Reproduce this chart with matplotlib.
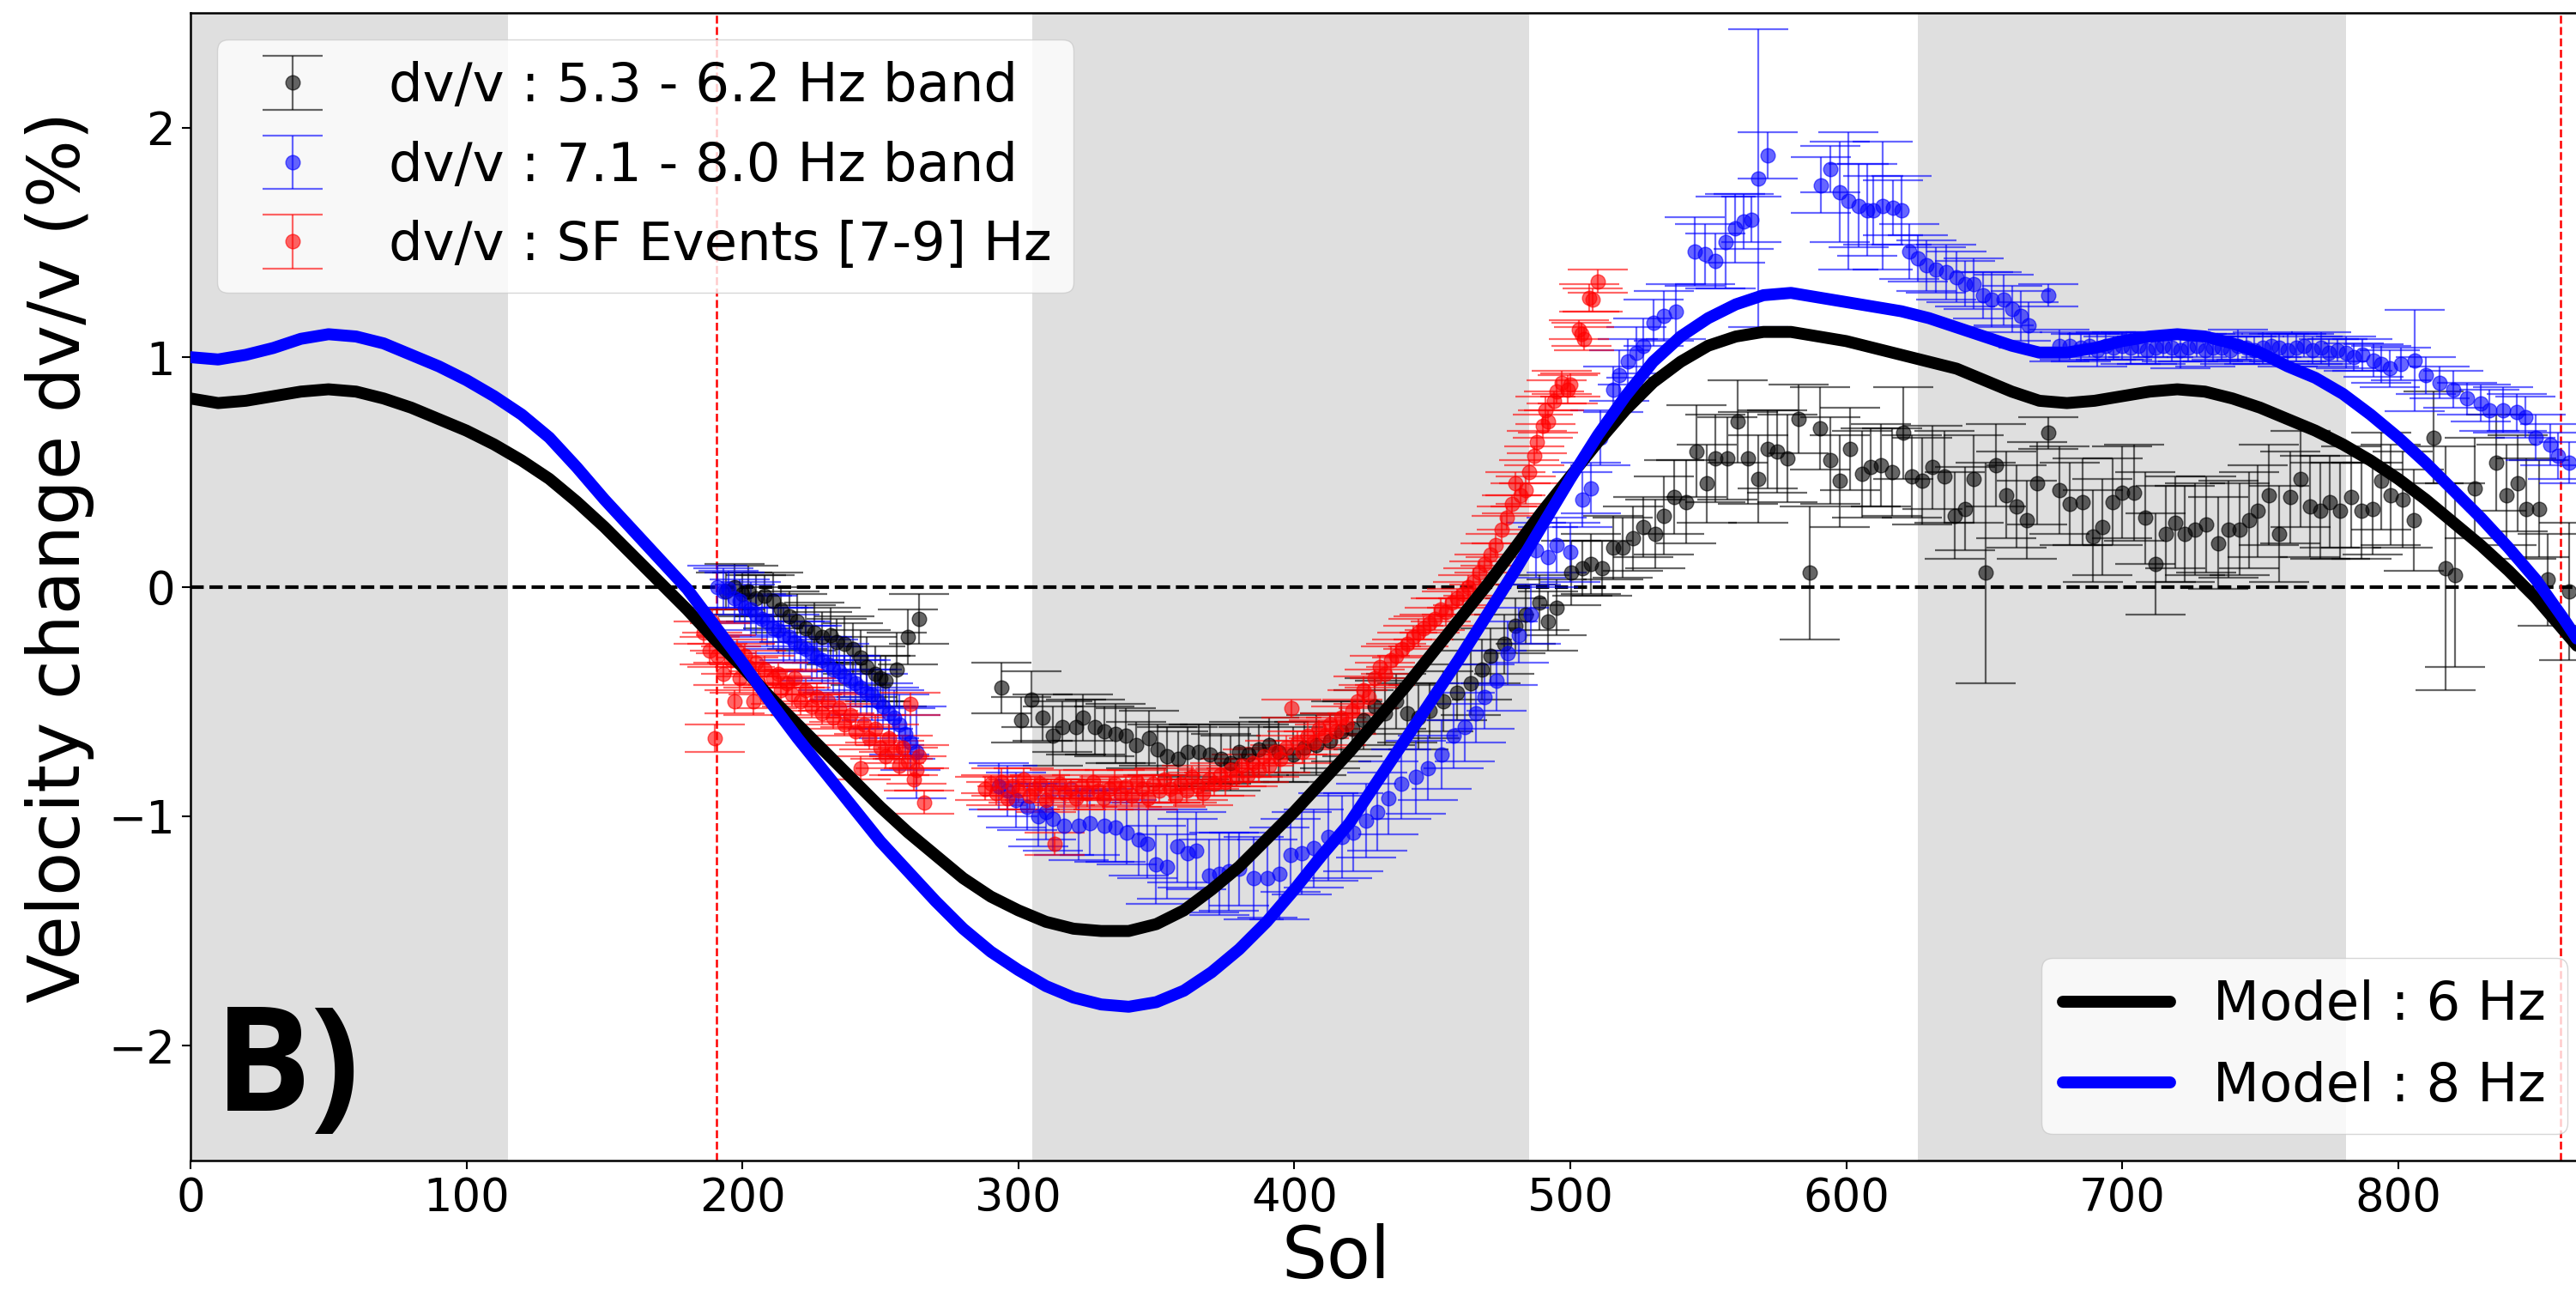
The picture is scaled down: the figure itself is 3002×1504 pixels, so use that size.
import matplotlib
matplotlib.use("Agg")
import matplotlib.pyplot as plt

# ---------------------------------------------------------------- data
# Model curves (dv/v in %), sampled every 10 sols
model_sol = list(range(0, 880, 10))
model_6hz = [0.82, 0.80, 0.81, 0.83, 0.85, 0.86, 0.85, 0.82, 0.78, 0.73,
             0.68, 0.62, 0.55, 0.47, 0.37, 0.26, 0.14, 0.02, -0.10, -0.23,
             -0.35, -0.48, -0.60, -0.72, -0.84, -0.96, -1.07, -1.17, -1.27, -1.35,
             -1.41, -1.46, -1.49, -1.50, -1.50, -1.47, -1.41, -1.32, -1.22, -1.10,
             -0.98, -0.85, -0.72, -0.58, -0.44, -0.29, -0.14, 0.01, 0.17, 0.33,
             0.48, 0.63, 0.77, 0.89, 0.98, 1.05, 1.09, 1.11, 1.11, 1.09,
             1.07, 1.04, 1.01, 0.98, 0.95, 0.90, 0.85, 0.81, 0.80, 0.81,
             0.83, 0.85, 0.86, 0.85, 0.82, 0.78, 0.73, 0.68, 0.62, 0.55,
             0.47, 0.38, 0.28, 0.18, 0.07, -0.05, -0.19, -0.33]
model_8hz = [1.00, 0.99, 1.01, 1.04, 1.08, 1.10, 1.09, 1.06, 1.01, 0.96,
             0.90, 0.83, 0.75, 0.65, 0.52, 0.38, 0.25, 0.12, -0.01, -0.17,
             -0.33, -0.50, -0.66, -0.81, -0.96, -1.11, -1.24, -1.37, -1.49, -1.59,
             -1.67, -1.74, -1.79, -1.82, -1.83, -1.81, -1.76, -1.68, -1.58, -1.46,
             -1.32, -1.17, -1.03, -0.85, -0.67, -0.49, -0.31, -0.12, 0.07, 0.27,
             0.47, 0.66, 0.83, 0.98, 1.09, 1.17, 1.23, 1.27, 1.28, 1.26,
             1.24, 1.22, 1.20, 1.17, 1.13, 1.09, 1.05, 1.02, 1.02, 1.04,
             1.07, 1.09, 1.10, 1.09, 1.06, 1.02, 0.96, 0.91, 0.84, 0.75,
             0.65, 0.54, 0.42, 0.30, 0.17, 0.03, -0.14, -0.32]

# dv/v measured in the 5.3 - 6.2 Hz band
band6_sol = [194, 197, 200, 202, 205, 208, 211, 214, 217, 220, 223, 226, 229, 232, 234,
             237, 240, 243, 245, 248, 250, 252, 256, 260, 264,
             293.8, 301, 304.7, 308.9, 312.5, 316, 320.8, 323.3, 327.6, 331.2, 335.3, 339,
             342.6, 347.3, 350.4, 354, 358, 361.2, 365.3, 369.5, 373.6, 376.8, 379.9, 383.5,
             387.2, 390.8, 394.4, 399.6, 403.7, 407.9, 413, 417, 421,
             425, 429, 433, 437, 441, 445, 449, 454, 459, 464, 468, 471, 476, 480, 484,
             488.7, 491.8, 495, 500.2, 504.3, 507.4, 511.6, 515.7, 518.9, 522.7, 526.4,
             530.7, 533.9, 537.7, 542, 545.7, 549.4, 552.7, 556.9, 560.7, 564.4, 568.2, 571.4,
             575.1, 578.8, 582.6, 586.9, 590.6, 594.4, 597.6, 601.3, 605.6, 608.8, 612.6,
             616.7, 620.6, 623.8, 627.6, 631.3, 635.6, 639.3, 643.1, 646.3, 650.6, 654.3,
             658.1, 661.8, 665.6, 669.2, 673.1, 677.4, 681.1,
             685.8, 689.4, 692.9, 696.5, 700.1, 704.3, 708.5, 712.1, 715.7, 719.3, 722.8,
             726.4, 730.6, 734.8, 738.4, 742.5, 746.1, 749.1, 753.3, 756.8, 761, 764.6,
             768.2, 771.8, 775.3, 778.9, 783.1, 786.7, 790.9, 793.8, 797.4, 801.6, 805.8,
             812.9, 817.1, 820.7, 827.9, 835.6, 839.2, 843.4, 846.4, 851.2, 854.2, 861.9]
band6_dvv = [-0.02, 0.00, -0.03, -0.02, -0.05, -0.04, -0.06, -0.10, -0.13, -0.15, -0.18, -0.20,
             -0.22, -0.21, -0.24, -0.25, -0.27, -0.31, -0.35, -0.38, -0.40, -0.41, -0.36, -0.22,
             -0.14,
             -0.44, -0.58, -0.49, -0.57, -0.65, -0.61, -0.61, -0.57, -0.61, -0.63, -0.64, -0.65,
             -0.69, -0.66, -0.71, -0.74, -0.75, -0.72, -0.72, -0.73, -0.75, -0.77, -0.72, -0.73,
             -0.71, -0.69, -0.72, -0.73, -0.70, -0.69, -0.67, -0.63, -0.62,
             -0.58, -0.52, -0.55, -0.50, -0.55, -0.57, -0.54, -0.50, -0.46, -0.42, -0.36, -0.30,
             -0.25, -0.17, -0.12, -0.07, -0.15, -0.09, 0.06, 0.08, 0.10, 0.08, 0.17, 0.17, 0.21,
             0.26,
             0.23, 0.31, 0.39, 0.37, 0.59, 0.45, 0.56, 0.56, 0.72, 0.56, 0.47, 0.60,
             0.59, 0.56, 0.73, 0.06, 0.69, 0.55, 0.46, 0.60, 0.49, 0.52, 0.53,
             0.50, 0.67, 0.48, 0.46, 0.52, 0.48, 0.31, 0.34, 0.47, 0.06, 0.53,
             0.40, 0.35, 0.29, 0.45, 0.67, 0.42, 0.36,
             0.37, 0.22, 0.26, 0.37, 0.41, 0.41, 0.30, 0.10, 0.23, 0.28, 0.23,
             0.25, 0.27, 0.19, 0.25, 0.25, 0.29, 0.33, 0.40, 0.23, 0.39, 0.47,
             0.35, 0.33, 0.37, 0.33, 0.39, 0.33, 0.34, 0.46, 0.40, 0.38, 0.29,
             0.65, 0.08, 0.05, 0.43, 0.54, 0.40, 0.45, 0.34, 0.34, 0.03, -0.02]
band6_err = [0.08, 0.10, 0.09, 0.11, 0.10, 0.09, 0.12, 0.10, 0.11, 0.12, 0.10, 0.13, 0.11, 0.12,
             0.10, 0.12, 0.11, 0.12, 0.13, 0.12, 0.10, 0.11, 0.16, 0.12, 0.11,
             0.11, 0.10, 0.12, 0.10, 0.13, 0.11, 0.12, 0.10, 0.12, 0.11, 0.13, 0.12,
             0.10, 0.12, 0.11, 0.13, 0.12, 0.11, 0.12, 0.13, 0.11, 0.12, 0.13, 0.12,
             0.11, 0.12, 0.13, 0.12, 0.11, 0.13, 0.12, 0.13, 0.12,
             0.13, 0.12, 0.14, 0.12, 0.13, 0.14, 0.12, 0.13, 0.12, 0.14, 0.13, 0.12,
             0.13, 0.12, 0.13, 0.12, 0.13, 0.12, 0.14, 0.12, 0.13, 0.12, 0.14, 0.13, 0.14,
             0.13,
             0.15, 0.17, 0.16, 0.18, 0.20, 0.17, 0.19, 0.18, 0.18, 0.20, 0.19, 0.17,
             0.18, 0.19, 0.15, 0.29, 0.18, 0.19, 0.20, 0.18, 0.19, 0.17, 0.18,
             0.19, 0.20, 0.18, 0.19, 0.18, 0.20, 0.19, 0.18, 0.19, 0.48, 0.18,
             0.19, 0.18, 0.17, 0.18, 0.07, 0.19, 0.18,
             0.19, 0.20, 0.21, 0.19, 0.20, 0.21, 0.20, 0.22, 0.21, 0.20, 0.21,
             0.20, 0.21, 0.20, 0.21, 0.20, 0.21, 0.20, 0.22, 0.21, 0.20, 0.21,
             0.22, 0.21, 0.20, 0.21, 0.22, 0.21, 0.20, 0.21, 0.22, 0.21, 0.22,
             0.20, 0.53, 0.40, 0.22, 0.21, 0.22, 0.21, 0.22, 0.21, 0.20, 0.30]

# dv/v measured in the 7.1 - 8.0 Hz band
band8_sol = [191, 193, 195, 197, 199, 201, 203, 205, 207, 209, 211, 213, 215, 217, 219, 221,
             223, 225, 227, 229, 231, 233, 235, 237, 239, 241, 243, 245, 247, 249, 251, 253,
             255, 257, 259, 261, 263,
             293, 295.9, 299, 303.1, 307.3, 310, 312.5, 316.6, 321.8, 326, 331.1, 335.3,
             339.4, 343.6, 346.7, 349.8, 354, 357.6, 361.2, 364.3, 369, 372.7, 376.3, 380,
             385.2, 390.4, 394.5, 398.7, 402.8, 407, 412.2, 417.4, 421.5, 426, 430, 434,
             438.9, 444.1, 448.3, 453.5, 457.6, 461.8, 465.9, 469, 473.2, 477.3, 481.5, 485.6,
             487.7, 491.8, 494.9, 500.1, 504.3, 507.4, 511, 515.7, 517.9, 521, 524, 526.4,
             530.1, 533.9, 538.2,
             545.2, 549, 552.7, 556.4, 559.6, 562.9, 565.5, 568.2, 571.4, 590.7, 594.4, 597.6,
             600.8, 604.5, 607.7, 609.9, 613.1, 616.9, 620.1, 622.8, 626, 629.2, 632.4, 636.2,
             639.9, 643.1, 646.3, 649.5, 652.7, 657, 660.2, 663.4, 666.1, 673.1, 677.4, 681.1,
             685, 688, 691, 694, 697, 700, 703, 706, 709, 712, 715, 718, 721, 724, 727, 730,
             733, 736, 739, 742, 745, 748, 751, 754, 757, 760, 763, 766, 769, 772, 775, 778,
             781, 784, 787,
             791, 794, 797, 801, 806, 810, 815, 820, 825, 830, 833, 838, 843, 846, 850, 855,
             858, 862]
band8_dvv = [0.00, -0.02, -0.01, -0.05, -0.06, -0.09, -0.10, -0.12, -0.14, -0.15, -0.18, -0.19,
             -0.21, -0.22, -0.24, -0.26, -0.27, -0.29, -0.31, -0.32, -0.34, -0.36, -0.37, -0.39,
             -0.41, -0.42, -0.44, -0.46, -0.47, -0.50, -0.52, -0.55, -0.57, -0.60, -0.64, -0.68,
             -0.72,
             -0.87, -0.89, -0.93, -0.96, -1.00, -0.98, -1.01, -1.04, -1.04, -1.03, -1.04, -1.05,
             -1.07, -1.10, -1.12, -1.21, -1.22, -1.13, -1.16, -1.15, -1.26, -1.25, -1.24, -1.23,
             -1.27, -1.27, -1.25, -1.17, -1.16, -1.14, -1.09, -1.09, -1.07, -1.02, -0.98, -0.92,
             -0.86, -0.83, -0.79, -0.73, -0.65, -0.61, -0.55, -0.48, -0.41, -0.29, -0.21, -0.12,
             0.16, 0.13, 0.18, 0.15, 0.38, 0.43, 0.65, 0.86, 0.92, 0.98, 1.02, 1.05,
             1.15, 1.18, 1.20,
             1.46, 1.45, 1.42, 1.50, 1.56, 1.59, 1.60, 1.78, 1.88, 1.75, 1.82, 1.72,
             1.68, 1.66, 1.64, 1.64, 1.66, 1.65, 1.64, 1.46, 1.43, 1.40, 1.38, 1.37,
             1.35, 1.32, 1.32, 1.27, 1.25, 1.25, 1.21, 1.18, 1.14, 1.27, 1.05, 1.05,
             1.04, 1.05, 1.03, 1.05, 1.04, 1.05, 1.04, 1.05, 1.03, 1.04, 1.05, 1.04, 1.03, 1.04,
             1.05, 1.03, 1.04, 1.04, 1.03, 1.05, 1.04, 1.03, 1.04, 1.05, 1.04, 1.03, 1.04, 1.05,
             1.03, 1.04, 1.02, 1.03, 1.02, 1.00, 1.01,
             0.985, 0.97, 0.95, 0.97, 0.985, 0.92, 0.89, 0.86, 0.82, 0.80, 0.77, 0.77,
             0.76, 0.74, 0.65, 0.62, 0.57, 0.54]
band8_err = [0.09, 0.10, 0.08, 0.11, 0.09, 0.10, 0.12, 0.09, 0.10, 0.11, 0.09, 0.10, 0.12,
             0.10, 0.09, 0.11, 0.10, 0.12, 0.09, 0.10, 0.11, 0.10, 0.12, 0.09, 0.11, 0.10,
             0.12, 0.10, 0.11, 0.12, 0.10, 0.11, 0.12, 0.13, 0.11, 0.12, 0.20,
             0.10, 0.11, 0.12, 0.10, 0.13, 0.12, 0.14, 0.13, 0.15, 0.14, 0.16, 0.15,
             0.14, 0.16, 0.15, 0.17, 0.14, 0.16, 0.15, 0.17, 0.16, 0.18, 0.17, 0.16,
             0.18, 0.17, 0.20, 0.16, 0.18, 0.17, 0.19, 0.18, 0.17, 0.16, 0.17, 0.16,
             0.15, 0.16, 0.14, 0.15, 0.14, 0.15, 0.13, 0.14, 0.13, 0.14, 0.12, 0.13,
             0.12, 0.13, 0.12, 0.13, 0.12, 0.11, 0.12, 0.10, 0.11, 0.10, 0.11, 0.12,
             0.10, 0.11, 0.12,
             0.15, 0.13, 0.12, 0.20, 0.15, 0.12, 0.10, 0.65, 0.10, 0.12, 0.10, 0.22,
             0.30, 0.18, 0.20, 0.15, 0.28, 0.12, 0.15, 0.12, 0.10, 0.11, 0.10, 0.12,
             0.11, 0.10, 0.11, 0.10, 0.12, 0.11, 0.10, 0.11, 0.10, 0.05, 0.07, 0.06,
             0.06, 0.05, 0.07, 0.06, 0.05, 0.06, 0.07, 0.05, 0.06, 0.07, 0.05, 0.06, 0.08, 0.06,
             0.05, 0.07, 0.06, 0.05, 0.06, 0.07, 0.05, 0.06, 0.07, 0.05, 0.06, 0.07, 0.06, 0.05,
             0.06, 0.07, 0.06, 0.05, 0.07, 0.06, 0.07,
             0.07, 0.08, 0.08, 0.07, 0.22, 0.08, 0.07, 0.08, 0.07, 0.08, 0.09, 0.10,
             0.08, 0.09, 0.10, 0.09, 0.10, 0.09]

# dv/v from SF events, 7 - 9 Hz
sf_sol = [186, 188, 189, 190, 191, 192, 193, 194, 196, 197, 198, 199, 201, 202, 204, 205,
          206, 208, 209, 211, 213, 214, 216, 218, 219, 221, 223, 225, 227, 229, 231, 233,
          235, 237, 239, 241, 243, 244, 246, 248, 250, 252, 253, 255, 257, 258, 260, 261,
          262, 263, 264, 266,
          288, 290, 292, 294, 296, 298, 300, 302, 304, 306, 308, 310, 312, 313, 315, 317,
          319, 321, 323, 325, 327, 329, 331, 333, 335, 337, 339, 341, 343, 345, 347, 349,
          351, 353, 355, 357, 359, 361, 363, 365, 367, 369, 371, 373, 375, 377, 379, 381,
          383, 385, 387, 389, 391, 393, 395, 397, 399, 401, 403, 405, 407, 409, 411, 413,
          415, 417, 419, 421,
          423, 425, 427, 429, 431, 433, 435, 437, 439, 441, 443, 445, 447, 449, 451, 453,
          455, 457, 459, 461, 463, 465, 467, 469, 471, 473, 475, 477, 479, 480, 482, 484,
          485, 487, 488, 490, 491, 492, 494, 495, 497, 499, 500, 503, 504, 505, 507, 508,
          510]
sf_dvv = [-0.20, -0.28, -0.15, -0.66, -0.30, -0.22, -0.38, -0.25, -0.32, -0.50, -0.28, -0.40,
          -0.30, -0.35, -0.50, -0.33, -0.42, -0.36, -0.48, -0.40, -0.38, -0.45, -0.42, -0.47,
          -0.40, -0.50, -0.45, -0.52, -0.48, -0.55, -0.50, -0.57, -0.53, -0.60, -0.56, -0.63,
          -0.79, -0.60, -0.66, -0.62, -0.70, -0.74, -0.66, -0.72, -0.78, -0.70, -0.76, -0.51,
          -0.84, -0.80, -0.74, -0.94,
          -0.88, -0.86, -0.90, -0.85, -0.92, -0.87, -0.89, -0.84, -0.91, -0.88, -0.86, -0.93,
          -0.89, -1.12, -0.86, -0.90, -0.88, -0.92, -0.87, -0.90, -0.85, -0.89, -0.92, -0.88,
          -0.86, -0.90, -0.87, -0.91, -0.85, -0.88, -0.92, -0.86, -0.89, -0.84, -0.88, -0.91,
          -0.86, -0.89, -0.83, -0.87, -0.90, -0.84, -0.86, -0.82, -0.85, -0.80, -0.83, -0.78,
          -0.82, -0.77, -0.80, -0.74, -0.78, -0.72, -0.75, -0.70, -0.53, -0.68, -0.72, -0.65,
          -0.68, -0.62, -0.65, -0.60, -0.63, -0.57, -0.60, -0.54,
          -0.50, -0.45, -0.48, -0.40, -0.35, -0.38, -0.32, -0.30, -0.27, -0.25, -0.22, -0.20,
          -0.18, -0.16, -0.14, -0.10, -0.11, -0.07, -0.05, -0.03, 0.00, 0.02, 0.06, 0.10,
          0.14, 0.18, 0.25, 0.30, 0.36, 0.45, 0.40, 0.42, 0.50, 0.57, 0.63, 0.70,
          0.77, 0.72, 0.81, 0.85, 0.89, 0.86, 0.88, 1.12, 1.10, 1.08, 1.26, 1.25, 1.33]
sf_err = [0.05, 0.06, 0.05, 0.06, 0.05, 0.06, 0.05, 0.04, 0.06, 0.05, 0.05, 0.06, 0.05, 0.04,
          0.06, 0.05, 0.05, 0.06, 0.05, 0.04, 0.05, 0.06, 0.05, 0.05, 0.04, 0.06, 0.05, 0.05,
          0.06, 0.05, 0.04, 0.05, 0.06, 0.05, 0.05, 0.06, 0.05, 0.04, 0.05, 0.06, 0.05, 0.05,
          0.06, 0.05, 0.04, 0.05, 0.06, 0.05, 0.05, 0.06, 0.05, 0.05,
          0.05, 0.04, 0.05, 0.06, 0.05, 0.04, 0.05, 0.05, 0.06, 0.05, 0.04, 0.05, 0.05, 0.05,
          0.06, 0.05, 0.04, 0.05, 0.05, 0.06, 0.05, 0.04, 0.05, 0.05, 0.06, 0.05, 0.04, 0.05,
          0.05, 0.06, 0.05, 0.04, 0.05, 0.05, 0.06, 0.05, 0.04, 0.05, 0.05, 0.06, 0.05, 0.04,
          0.05, 0.05, 0.06, 0.05, 0.04, 0.05, 0.05, 0.06, 0.05, 0.04, 0.05, 0.05, 0.06, 0.05,
          0.04, 0.05, 0.05, 0.06, 0.05, 0.04, 0.05, 0.05, 0.06, 0.05, 0.04, 0.05,
          0.05, 0.06, 0.05, 0.04, 0.05, 0.05, 0.06, 0.05, 0.04, 0.05, 0.05, 0.06, 0.05, 0.04,
          0.05, 0.05, 0.06, 0.05, 0.04, 0.05, 0.05, 0.06, 0.05, 0.04, 0.05, 0.05, 0.06, 0.05,
          0.04, 0.05, 0.05, 0.06, 0.05, 0.04, 0.05, 0.05, 0.06, 0.05, 0.04, 0.05, 0.05, 0.06,
          0.05, 0.04, 0.05, 0.05, 0.06, 0.05, 0.05]

# shaded seasonal intervals and marked sols
shade_start = [0, 305, 626]
shade_end = [115, 485, 781]
marked_sols = [190.5, 859]

xticks = [0, 100, 200, 300, 400, 500, 600, 700, 800]
yticks = [-2, -1, 0, 1, 2]

# ---------------------------------------------------------------- figure
plt.rcParams["font.family"] = ["DejaVu Sans"]
fig = plt.figure(figsize=(30.02, 15.04), dpi=100)
ax = fig.add_axes([222 / 3002, 152 / 1504, 2801 / 3002, 1337 / 1504])

for s0, s1 in zip(shade_start, shade_end):
    ax.axvspan(s0, s1, color="gray", alpha=0.25, lw=0, zorder=0)

ax.axhline(0, color="black", ls="--", lw=3, zorder=1)
for s in marked_sols:
    ax.axvline(s, color="red", ls="--", lw=1.8, zorder=1)

eb_style = dict(fmt="o", ms=12, capsize=25, elinewidth=1.6, capthick=1.6,
                alpha=0.6, zorder=2)
h1 = ax.errorbar(band6_sol, band6_dvv, yerr=band6_err, color="black",
                 label="dv/v : 5.3 - 6.2 Hz band", **eb_style)
h2 = ax.errorbar(band8_sol, band8_dvv, yerr=band8_err, color="blue",
                 label="dv/v : 7.1 - 8.0 Hz band", **eb_style)
h3 = ax.errorbar(sf_sol, sf_dvv, yerr=sf_err, color="red",
                 label="dv/v : SF Events [7-9] Hz", **eb_style)

l6, = ax.plot(model_sol, model_6hz, color="black", lw=10, zorder=3,
              solid_capstyle="round", solid_joinstyle="round", label="Model : 6 Hz")
l8, = ax.plot(model_sol, model_8hz, color="blue", lw=10, zorder=3,
              solid_capstyle="round", solid_joinstyle="round", label="Model : 8 Hz")

ax.set_xlim(0, 871)
ax.set_ylim(-2.5, 2.5)
ax.set_xticks(xticks)
ax.set_yticks(yticks)
ax.tick_params(labelsize=38, length=7, width=1.5, pad=6)
for sp in ax.spines.values():
    sp.set_linewidth(1.8)

ax.set_xlabel("Sol", fontsize=60, labelpad=2, x=0.4766)
ax.set_ylabel("Velocity change dv/v (%)", fontsize=60, labelpad=12, y=0.526)

leg1 = ax.legend(handles=[h1, h2, h3], loc="upper left", fontsize=45,
                 labelspacing=0.52)
ax.add_artist(leg1)
ax.legend(handles=[l6, l8], loc="lower right", fontsize=45, labelspacing=0.55)

ax.text(0.0100, 0.0434, "B)", transform=ax.transAxes, fontsize=121,
        family=["Open Sans", "DejaVu Sans"], fontweight="bold",
        ha="left", va="baseline", zorder=5)

fig.savefig("out.png", dpi=100)
